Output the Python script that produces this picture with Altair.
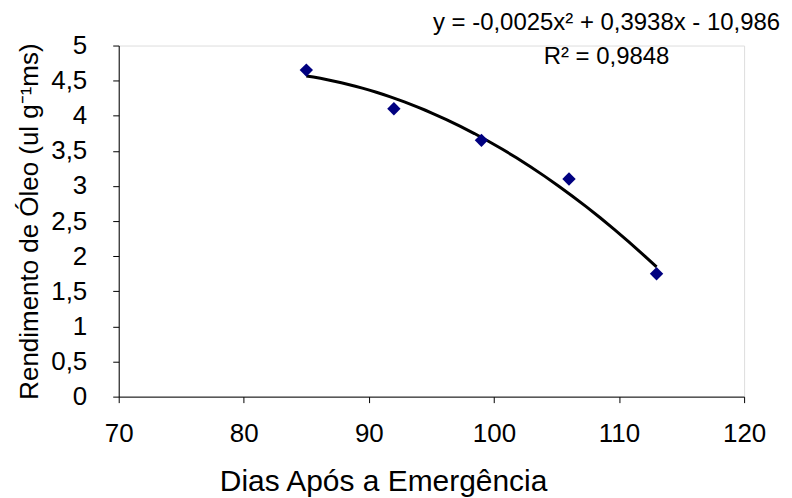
import altair as alt
import pandas as pd

# Data
dias = [85, 92, 99, 106, 113]
rendimento = [4.65, 4.10, 3.65, 3.10, 1.75]
x_ticks = [70, 80, 90, 100, 110, 120]
y_ticks = [0, 0.5, 1, 1.5, 2, 2.5, 3, 3.5, 4, 4.5, 5]

eq_lines = ["y = -0,0025x² + 0,3938x - 10,986", "R² = 0,9848"]
eq_x = [109.0, 109.0]
eq_y = [5.32, 4.84]

df = pd.DataFrame({"dias": dias, "rend": rendimento})
ann = pd.DataFrame({"txt": eq_lines, "x": eq_x, "y": eq_y})

FONT = "Liberation Sans"
FS = 26

xscale = alt.Scale(domain=[70, 120], nice=False, zero=False)
yscale = alt.Scale(domain=[0, 5], nice=False)

xaxis = alt.Axis(values=x_ticks, title="Dias Após a Emergência",
                 grid=False, domainColor="black", tickColor="black", tickSize=6,
                 labelFont=FONT, labelFontSize=FS, labelColor="black", labelPadding=18,
                 titleFont=FONT, titleFontSize=30, titleFontWeight="normal",
                 titleColor="black", titleX=265, titleY=85, titleAlign="center",
                 titleBaseline="middle",
                 labelFlush=False, labelOverlap=False)
yaxis = alt.Axis(values=y_ticks,
                 title="Rendimento de Óleo (ul g⁻¹ms)",
                 labelExpr="replace(format(datum.value, ''), '.', ',')",
                 grid=False, domainColor="black", tickColor="black", tickSize=6,
                 labelFont=FONT, labelFontSize=FS, labelColor="black", labelPadding=26,
                 titleFont=FONT, titleFontSize=FS, titleFontWeight="normal",
                 titleColor="black", titlePadding=8, labelFlush=False,
                 labelOverlap=False)

X = alt.X("dias:Q", scale=xscale, axis=xaxis)
Y = alt.Y("rend:Q", scale=yscale, axis=yaxis)

points = alt.Chart(df).mark_point(shape="diamond", filled=True, color="#000080",
                                  opacity=1, size=180).encode(x=X, y=Y)

trend = alt.Chart(df).transform_regression(
    "dias", "rend", method="poly", order=2, extent=[85, 113]
).mark_line(color="black", strokeWidth=3).encode(x=X, y=Y)

text = alt.Chart(ann).mark_text(font=FONT, fontSize=24, color="black", align="center",
                                baseline="middle").encode(
    x=alt.X("x:Q", scale=xscale, axis=xaxis),
    y=alt.Y("y:Q", scale=yscale, axis=yaxis),
    text="txt:N",
)

chart = alt.layer(trend, points, text).properties(
    width=627, height=352,
    autosize=alt.AutoSizeParams(type="none"),
    padding={"left": 111, "top": 37, "right": 40, "bottom": 100},
).configure_view(stroke=None).configure(background="white")

chart.save("out.html", embed_options={"renderer": "svg", "actions": False})
